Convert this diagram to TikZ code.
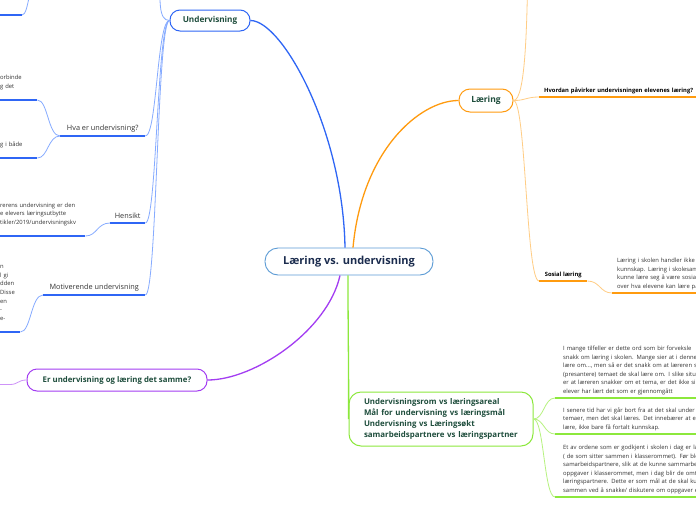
\documentclass[tikz,border=0pt]{standalone}
\usepackage{fontspec}
\setmainfont{Open Sans}
\usetikzlibrary{positioning}
\definecolor{rootLine}{HTML}{5B9BD5}
\definecolor{rootText}{HTML}{1B2C4E}
\definecolor{topicText}{HTML}{1E4D3C}
\definecolor{leafText}{HTML}{333333}
\definecolor{blueMain}{HTML}{2F66F5}
\definecolor{blueSoft}{HTML}{86ABFF}
\definecolor{orangeMain}{HTML}{FF9B0F}
\definecolor{orangeSoft}{HTML}{FFCD85}
\definecolor{purpleMain}{HTML}{A33DF2}
\definecolor{purpleSoft}{HTML}{CE93F8}
\definecolor{greenMain}{HTML}{8CE83C}
\definecolor{greenSoft}{HTML}{B6F27E}
\tikzstyle{root} = [rectangle, rounded corners=13pt, minimum width=168pt, minimum height=27pt, draw=rootLine, line width=0.9pt, fill=white, text=rootText, font=\fontsize{11}{13}\selectfont\bfseries]
\tikzstyle{topic} = [rectangle, fill=white, line width=1pt, text=topicText, inner sep=0pt, font=\fontsize{8.2}{11}\selectfont\bfseries]
\tikzstyle{sublabel} = [inner xsep=0pt, inner ysep=4pt, text=leafText, font=\fontsize{7.3}{9}\selectfont]
\tikzstyle{leaf} = [inner xsep=0pt, inner ysep=3pt, align=left, text=leafText, font=\fontsize{5.85}{8.6}\selectfont]
\tikzstyle{leafbold} = [leaf, text=black, font=\fontsize{5.8}{8.6}\selectfont\bfseries]
\tikzstyle{limb} = [line width=1.3pt]
\tikzstyle{twig} = [line width=0.8pt]
\tikzset{uline/.style={append after command={(\tikzlastnode.south west) edge[draw=#1, line width=1.3pt] (\tikzlastnode.south east)}}}

\begin{document}
\begin{tikzpicture}[x=1pt, y=-1pt]
    \useasboundingbox (0,0) rectangle (696,520);
    \fill[white] (0,0) rectangle (696,520);
    \clip (0,0) rectangle (696,520);

    % main topics
    \node (root) [root] at (349,261.5) {Læring vs. undervisning};
    \node (underv) [topic, draw=blueMain, rounded corners=10pt, minimum width=80pt, minimum height=21pt] at (210,20.5) {Undervisning};
    \node (laering) [topic, draw=orangeMain, rounded corners=11pt, minimum width=54pt, minimum height=23pt, font=\fontsize{8.5}{11}\selectfont\bfseries] at (486,100.5) {Læring};
    \node (samme) [topic, draw=purpleMain, rounded corners=10pt, minimum width=180pt, minimum height=22pt, font=\fontsize{7.8}{10}\selectfont\bfseries] at (117,380) {Er undervisning og læring det samme?};
    \node (begrep) [topic, draw=greenMain, rounded corners=12pt, text width=154pt, inner xsep=15pt, minimum height=54pt, align=left, font=\fontsize{7.9}{11}\selectfont\bfseries] at (441,419) {Undervisningsrom vs læringsareal\\Mål for undervisning vs læringsmål\\Undervisning vs Læringsøkt\\samarbeidspartnere vs læringspartner};

    \draw[limb, blueMain] ([xshift=-4pt]root.north) .. controls (343,130) and (282,20.5) .. (underv.east);
    \draw[limb, orangeMain] ([xshift=4pt]root.north) .. controls (362,150) and (420,100.5) .. (laering.west);
    \draw[limb, purpleMain] ([xshift=-9pt]root.south) .. controls (328,330) and (255,380) .. (samme.east);
    \draw[limb, greenMain] ([xshift=-1pt]root.south) .. controls (348,340) and (349,380) .. (begrep.west);

    % Undervisning
    \node (hva) [sublabel, uline=blueMain, minimum width=85pt, anchor=south west] at (60,136) {Hva er undervisning?};
    \node (hensikt) [sublabel, uline=blueMain, minimum width=35pt, anchor=south west] at (110,223) {Hensikt};
    \node (motiv) [sublabel, uline=blueMain, minimum width=102pt, anchor=south west] at (43,295) {Motiverende undervisning};
    \coordinate (uTop) at (160,-30);
    \coordinate (tlEnd) at (22,15);
    \coordinate (tlStart) at (-5,15);
    \coordinate (tlUp) at (36,-20);

    \draw[twig, blueSoft] (underv.west) .. controls (158,20.5) and (160,0) .. (uTop);
    \draw[twig, blueSoft] (underv.west) .. controls (157,20.5) and (157,136) .. (hva.south east);
    \draw[twig, blueSoft] (underv.west) .. controls (157,20.5) and (157,223) .. (hensikt.south east);
    \draw[twig, blueSoft] (underv.west) .. controls (157,20.5) and (157,295) .. (motiv.south east);
    \draw[limb, blueMain] (tlStart) -- (tlEnd);
    \draw[twig, blueSoft] (tlEnd) .. controls (29,15) and (29,-20) .. (tlUp);

    \node (hvaA) [leaf, uline=blueMain, text width=37pt, anchor=south west] at (0,100) {orbinde\\g det\\\mbox{}};
    \node (hvaB) [leaf, uline=blueMain, text width=37pt, anchor=south west] at (0,158) {g i både\\\mbox{}};
    \node (hensiktA) [leaf, uline=blueMain, text width=85pt, anchor=south west] at (0,236) {rerens undervisning er den\\e elevers læringsutbytte\\tikler/2019/undervisningskv\\\mbox{}};
    \node (motivA) [leaf, uline=blueMain, text width=20pt, anchor=south west] at (0,332) {n\\l gi\\dden\\Disse\\en\\-\\e-\\\mbox{}};

    \draw[twig, blueSoft] (hva.south west) .. controls (48,136) and (48,100) .. (hvaA.south east);
    \draw[twig, blueSoft] (hva.south west) .. controls (48,136) and (48,158) .. (hvaB.south east);
    \draw[twig, blueSoft] (hensikt.south west) .. controls (97,223) and (97,236) .. (hensiktA.south east);
    \draw[twig, blueSoft] (motiv.south west) .. controls (31,295) and (31,332) .. (motivA.south east);

    % Læring
    \coordinate (lTop) at (528,-40);
    \node (hvordan) [leafbold, uline=orangeMain, text width=170pt, inner xsep=5pt, anchor=south west] at (539,97) {Hvordan påvirker undervisningen elevenes læring?};
    \node (sosial) [leafbold, uline=orangeMain, minimum width=48pt, anchor=south west] at (539,281) {Sosial læring};
    \node (sosialA) [leaf, uline=orangeMain, text width=120pt, inner xsep=5pt, anchor=south west] at (612,293) {Læring i skolen handler ikke b\\kunnskap. Læring i skolesam\\kunne lære seg å være sosial\\over hva elevene kan lære på};

    \draw[twig, orangeSoft] (laering.east) .. controls (526,100.5) and (527,20) .. (lTop);
    \draw[twig, orangeSoft] (laering.east) .. controls (526,100.5) and (526,97) .. (hvordan.south west);
    \draw[twig, orangeSoft] (laering.east) .. controls (526,100.5) and (526,281) .. (sosial.south west);
    \draw[twig, orangeSoft] (sosial.south east) .. controls (600,281) and (600,293) .. (sosialA.south west);

    % Er undervisning og læring det samme?
    \coordinate (pEnd) at (10,384.5);
    \coordinate (pStart) at (-5,384.5);
    \draw[twig, purpleSoft] (samme.west) .. controls (18,380) and (18,384.5) .. (pEnd) -- (pStart);

    % begreper
    \node (ordA) [leaf, uline=greenMain, text width=200pt, inner xsep=8pt, anchor=south west] at (555,398) {I mange tilfeller er dette ord som bir forveksle\\snakk om læring i skolen. Mange sier at i denne\\lære om..., men så er det snakk om at læreren s\\(presantere) temaet de skal lære om. I slike situ\\er at læreren snakker om et tema, er det ikke sik\\elever har lært det som er gjennomgått};
    \node (ordB) [leaf, uline=greenMain, text width=200pt, inner xsep=8pt, anchor=south west] at (555,434) {I senere tid har vi går bort fra at det skal under\\temaer, men det skal læres. Det innebærer at ele\\lære, ikke bare få fortalt kunnskap.};
    \node (ordC) [leaf, uline=greenMain, text width=200pt, inner xsep=8pt, anchor=south west] at (555,497) {Et av ordene som er godkjent i skolen i dag er læ\\( de som sitter sammen i klasserommet). Før ble\\samarbeidspartnere, slik at de kunne sammarbe\\oppgaver i klasserommet, men i dag blir de omt\\læringspartnere. Dette er som mål at de skal ku\\sammen ved å snakke/ diskutere om oppgaver e};

    \draw[twig, greenSoft] (begrep.east) .. controls (544,419) and (544,398) .. (ordA.south west);
    \draw[twig, greenSoft] (begrep.east) .. controls (544,419) and (544,434) .. (ordB.south west);
    \draw[twig, greenSoft] (begrep.east) .. controls (544,419) and (544,497) .. (ordC.south west);
\end{tikzpicture}
\end{document}
